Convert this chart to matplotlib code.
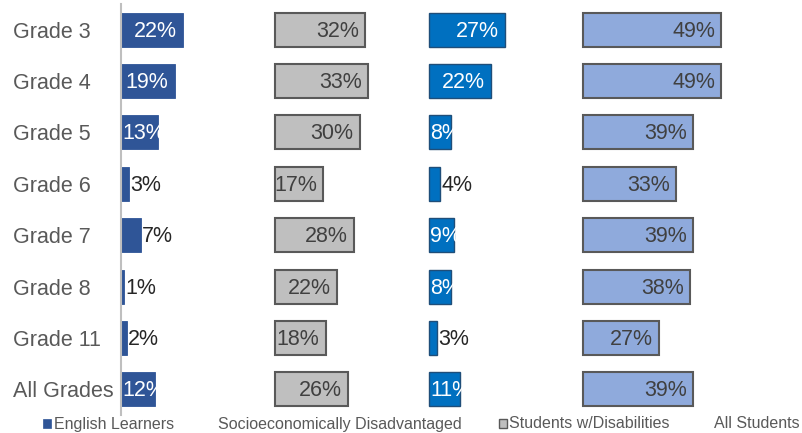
import matplotlib
matplotlib.use("Agg")
import matplotlib.pyplot as plt
from matplotlib.patches import Rectangle

plt.rcParams['font.family'] = ['Liberation Sans', 'DejaVu Sans']

grades = ["Grade 3", "Grade 4", "Grade 5", "Grade 6", "Grade 7", "Grade 8", "Grade 11", "All Grades"]
english_learners = [22, 19, 13, 3, 7, 1, 2, 12]
socio_disadv = [32, 33, 30, 17, 28, 22, 18, 26]
students_disab = [27, 22, 8, 4, 9, 8, 3, 11]
all_students = [49, 49, 39, 33, 39, 38, 27, 39]
series_names = ["English Learners", "Socioeconomically Disadvantaged", "Students w/Disabilities", "All Students"]

series = [english_learners, socio_disadv, students_disab, all_students]
colors = ["#2F5597", "#BFBFBF", "#0070C0", "#8FAADC"]
edges = ["#2F5597", "#595959", "#1F4E79", "#595959"]
edge_w = [0.6, 1.5, 1.0, 1.5]
label_styles = ["white", "dark", "white", "dark"]
offset_step = 54.4

W, H = 803, 433
fig = plt.figure(figsize=(W/100, H/100), dpi=100)
ax = fig.add_axes([121/W, 18/H, 679/W, 411/H])
ax.set_xlim(0, 240)
ax.set_ylim(len(grades) - 0.5, -0.5)

ypos = list(range(len(grades)))
fs_lab = 15.5
for si, vals in enumerate(series):
    off = si * offset_step
    ax.barh(ypos, vals, left=off, height=0.66, color=colors[si],
            edgecolor=edges[si], linewidth=edge_w[si], zorder=2)
    for y, v in zip(ypos, vals):
        txt = f"{v}%"
        if label_styles[si] == "dark":
            ax.text(off + v - 2.2, y + 0.03, txt, ha='right', va='center', fontsize=fs_lab,
                    color="#404040", zorder=3)
        else:
            if v < 8:
                ax.text(off + v + 0.4, y + 0.03, txt, ha='left', va='center', fontsize=fs_lab,
                        color="#262626", zorder=3)
            elif v < 16:
                ax.text(off + 0.4, y + 0.03, txt, ha='left', va='center', fontsize=fs_lab,
                        color="white", zorder=3)
            else:
                ax.text(off + v - 2.2, y + 0.03, txt, ha='right', va='center', fontsize=fs_lab,
                        color="white", zorder=3)

ax.set_yticks(ypos)
ax.set_yticklabels(grades, fontsize=15.5, color="#595959", ha='left')
ax.tick_params(axis='y', length=0, pad=108 * 72 / 100)
ax.set_xticks([])
for s in ["top", "right", "bottom"]:
    ax.spines[s].set_visible(False)
ax.spines["left"].set_color("#BFBFBF")
ax.spines["left"].set_linewidth(1.5)
ax.spines["left"].set_zorder(4)

# legend row (as in reference: markers only on first and third entries)
leg_y = 1 - 424/H
fs = 11.5
fig.patches.append(Rectangle((43/W, 1 - 428/H), 8/W, 9/H, transform=fig.transFigure,
                             facecolor="#2F5597", edgecolor="#2F5597", linewidth=0.5))
fig.text(54/W, leg_y, series_names[0], fontsize=fs, color="#595959", va='center', ha='left')
fig.text(218/W, leg_y, series_names[1], fontsize=fs, color="#595959", va='center', ha='left')
fig.patches.append(Rectangle((499/W, 1 - 428/H), 8/W, 9/H, transform=fig.transFigure,
                             facecolor="#BFBFBF", edgecolor="#595959", linewidth=1.0))
fig.text(509/W, leg_y, series_names[2], fontsize=fs, color="#595959", va='center', ha='left')
fig.text(714/W, leg_y, series_names[3], fontsize=fs, color="#595959", va='center', ha='left')

fig.savefig("out.png", dpi=100)
